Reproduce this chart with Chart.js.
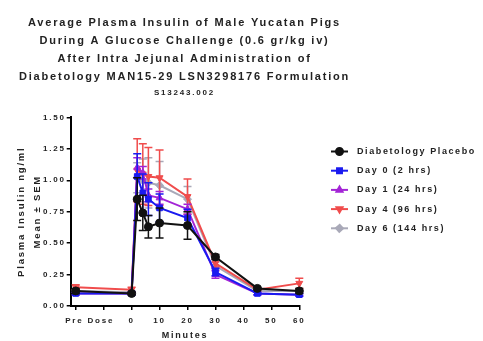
<!DOCTYPE html>
<html>
<head>
<meta charset="utf-8">
<script src="https://cdn.jsdelivr.net/npm/chart.js@4.4.0/dist/chart.umd.min.js"></script>
<style>
html,body{margin:0;padding:0;background:#fff}
canvas{display:block}
</style>
</head>
<body>
<canvas id="chart" width="483" height="341"></canvas>
<script>
// ── Data ──
const minutes=[-20,0,2,4,6,10,20,30,45,60];

const placebo   =[0.12,0.10,0.85,0.74,0.63,0.66,0.64,0.39,0.14,0.12];
const placeboSem=[0.02,0.01,0.17,0.14,0.09,0.12,0.11,0.02,0.01,0.02];
const day0      =[0.10,0.10,1.03,0.90,0.85,0.78,0.70,0.27,0.10,0.09];
const day0Sem   =[0.01,0.01,0.18,0.15,0.13,0.11,0.07,0.03,0.01,0.01];
const day1      =[0.10,0.10,1.10,1.06,0.88,0.86,0.77,0.25,0.10,0.09];
const day1Sem   =[0.01,0.01,0.08,0.05,0.05,0.05,0.04,0.03,0.01,0.01];
const day4      =[0.15,0.13,1.08,1.05,1.03,1.02,0.87,0.34,0.13,0.18];
const day4Sem   =[0.02,0.02,0.25,0.24,0.23,0.22,0.14,0.03,0.01,0.04];
const day6      =[0.12,0.11,1.02,1.00,0.98,0.96,0.85,0.32,0.12,0.12];
const day6Sem   =[0.01,0.01,0.12,0.17,0.20,0.19,0.10,0.03,0.01,0.01];

const xTickValues=[-20,-15,-10,0,10,20,30,40,50,60];
const xTickLabels=['','Pre Dose','','0','10','20','30','40','50','60'];

const FONT='"Liberation Sans", Arial, sans-serif';
const SPACING='1.8px';

function series(label,vals,sem,color,style,rot,r){
  return {label,data:minutes.map((m,i)=>({x:m,y:vals[i]})),errors:sem,
    borderColor:color,backgroundColor:color,pointBackgroundColor:color,pointBorderColor:color,
    borderWidth:2,pointStyle:style,pointRotation:rot||0,pointRadius:r||4,pointBorderWidth:1,
    tension:0,clip:false};
}

// ── Plugins ──
const spacing={id:'spacing',
  beforeLayout(c){c.ctx.letterSpacing=SPACING;},
  afterLayout(c){
    // widen the title blocks so the long lines are not squeezed; centred over the plot
    c.boxes.forEach(b=>{ if(b.position==='top'){ b.left=4.5; b.right=364.5; b.width=360; } });
  },
  beforeDraw(c){c.ctx.letterSpacing=SPACING;}};

const errorBars={id:'errorBars',beforeDatasetDraw(chart,args){
  const ds=chart.data.datasets[args.index];
  if(!ds.errors)return;
  const x=chart.scales.x,y=chart.scales.y,ctx=chart.ctx;
  ctx.save();
  ctx.strokeStyle=ds.borderColor;ctx.lineWidth=1.5;
  ds.data.forEach((p,i)=>{
    const px=x.getPixelForValue(p.x);
    const top=y.getPixelForValue(p.y+ds.errors[i]),bot=y.getPixelForValue(p.y-ds.errors[i]);
    ctx.beginPath();
    ctx.moveTo(px,top);ctx.lineTo(px,bot);
    ctx.moveTo(px-4,top);ctx.lineTo(px+4,top);
    ctx.moveTo(px-4,bot);ctx.lineTo(px+4,bot);
    ctx.stroke();
  });
  ctx.restore();
}};

const sideLegend={id:'sideLegend',afterDraw(chart){
  const ctx=chart.ctx;
  ctx.save();
  ctx.letterSpacing='1.6px';
  ctx.font='bold 9px '+FONT;
  ctx.textBaseline='middle';ctx.textAlign='left';
  chart.data.datasets.forEach((ds,i)=>{
    const yy=151.5+i*19.2;
    ctx.strokeStyle=ds.borderColor;ctx.fillStyle=ds.borderColor;ctx.lineWidth=2;
    ctx.beginPath();ctx.moveTo(331,yy);ctx.lineTo(348,yy);ctx.stroke();
    Chart.helpers.drawPoint(ctx,{pointStyle:ds.pointStyle,rotation:ds.pointRotation,radius:ds.pointRadius-0.5,borderWidth:1},339.5,yy);
    ctx.fillStyle='#222';
    ctx.fillText(ds.label,357,yy);
  });
  ctx.restore();
}};

// ── Chart ──
new Chart(document.getElementById('chart'),{
  type:'line',
  data:{datasets:[
    series('Diabetology Placebo',placebo,placeboSem,'#111111','circle'),
    series('Day 0 (2 hrs)',day0,day0Sem,'#1a1af0','rect'),
    series('Day 1 (24 hrs)',day1,day1Sem,'#a324d6','triangle'),
    series('Day 4 (96 hrs)',day4,day4Sem,'#f04c4c','triangle',180),
    series('Day 6 (144 hrs)',day6,day6Sem,'#a9a9b8','rectRot',3.5)
  ]},
  options:{
    responsive:false,animation:false,
    layout:{padding:{left:0,right:183.7,top:0,bottom:0}},
    plugins:{
      legend:{display:false},tooltip:{enabled:false},
      title:{display:true,fullSize:false,color:'#222',
        text:['Average Plasma Insulin of Male Yucatan Pigs','During A Glucose Challenge (0.6 gr/kg iv)',
              'After Intra Jejunal Administration of','Diabetology MAN15-29 LSN3298176 Formulation'],
        font:{family:FONT,size:11,weight:'bold',lineHeight:'18px'},padding:{top:13.7,bottom:1}},
      subtitle:{display:true,fullSize:false,color:'#222',text:'S13243.002',
        font:{family:FONT,size:8,weight:'bold',lineHeight:'12px'},padding:{top:0,bottom:18.7}}
    },
    scales:{
      x:{type:'linear',min:-21.8,max:60,
        afterBuildTicks(s){s.ticks=xTickValues.map(v=>({value:v}));},
        afterFit(s){s.height=35;},
        ticks:{autoSkip:false,maxRotation:0,padding:6,color:'#222',
          font:{family:FONT,size:8,weight:'bold'},
          callback(v){const k=xTickValues.indexOf(v);return k<0?'':xTickLabels[k];}},
        grid:{drawOnChartArea:false,tickLength:4,lineWidth:1.5,
          color:c=>(c.tick&&c.tick.value===-15)?'rgba(0,0,0,0)':'#000'},
        border:{color:'#000',width:2},
        title:{display:true,text:'Minutes',color:'#222',
          font:{family:FONT,size:9,weight:'bold',lineHeight:'10px'},padding:{top:0,bottom:0}}},
      y:{min:0,max:1.5,
        afterFit(s){s.width=70.7;},
        ticks:{stepSize:0.25,padding:1,color:'#222',
          font:{family:FONT,size:8,weight:'bold'},
          callback:v=>v.toFixed(2)},
        grid:{drawOnChartArea:false,tickLength:4,lineWidth:1.5,color:'#000'},
        border:{color:'#000',width:2},
        title:{display:true,text:['Plasma Insulin ng/ml','Mean \u00b1 SEM'],color:'#222',
          font:{family:FONT,size:9.5,weight:'bold',lineHeight:'16px'},padding:{top:13.7,bottom:0}}}
    }
  },
  plugins:[spacing,errorBars,sideLegend]
});
</script>
</body>
</html>
